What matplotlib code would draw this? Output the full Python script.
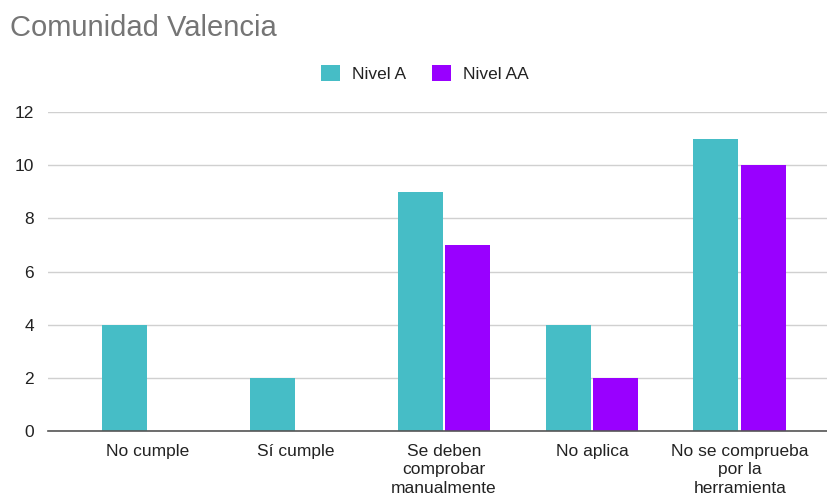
import numpy as np
import matplotlib
matplotlib.use("Agg")
import matplotlib.pyplot as plt

# ─── data ─────────────────────────────────────────────────────────────────────
categories = ["No cumple", "Sí cumple", "Se deben\ncomprobar\nmanualmente",
              "No aplica", "No se comprueba\npor la\nherramienta"]
nivel_a  = [4, 2, 9, 4, 11]
nivel_aa = [0, 0, 7, 2, 10]
series_labels = ["Nivel A", "Nivel AA"]
yticks = [0, 2, 4, 6, 8, 10, 12]

colors = ["#46BDC6", "#9900FF"]
TEXT = "#222222"

plt.rcParams["font.family"] = ["Liberation Sans", "DejaVu Sans"]

fig = plt.figure(figsize=(8.28, 4.98), dpi=100)
ax = fig.add_axes([0.058, 0.1345, 0.942, 0.6405])

x = np.arange(len(categories))
w = 0.304
gap = 0.01
ax.bar(x - w / 2 - gap, nivel_a, width=w, color=colors[0],
       label=series_labels[0], zorder=3)
ax.bar(x + w / 2 + gap, nivel_aa, width=w, color=colors[1],
       label=series_labels[1], zorder=3)

ax.set_xlim(-0.676, 4.595)
ax.set_ylim(0, 12)
ax.set_yticks(yticks)
ax.set_xticks(x)
ax.set_xticklabels(categories, fontsize=12.5, color=TEXT, linespacing=1.3)
ax.tick_params(axis="y", labelsize=12.5, labelcolor=TEXT, length=0, pad=10)
ax.tick_params(axis="x", length=0, pad=9)

ax.grid(axis="y", color="#d0d0d0", linewidth=1, zorder=0)
for s in ["top", "right", "left"]:
    ax.spines[s].set_visible(False)
ax.spines["bottom"].set_color("#555555")
ax.spines["bottom"].set_linewidth(1.2)
ax.spines["bottom"].set_zorder(4)

fig.text(0.012, 0.943, "Comunidad Valencia", fontsize=21, color="#757575",
         ha="left", va="center")

fig.legend(loc="center", bbox_to_anchor=(0.513, 0.853), ncol=2, frameon=False,
           fontsize=12.5, handlelength=1.1, handleheight=1.1, columnspacing=1.5,
           handletextpad=0.7, labelcolor=TEXT)

fig.savefig("out.png", dpi=100)
